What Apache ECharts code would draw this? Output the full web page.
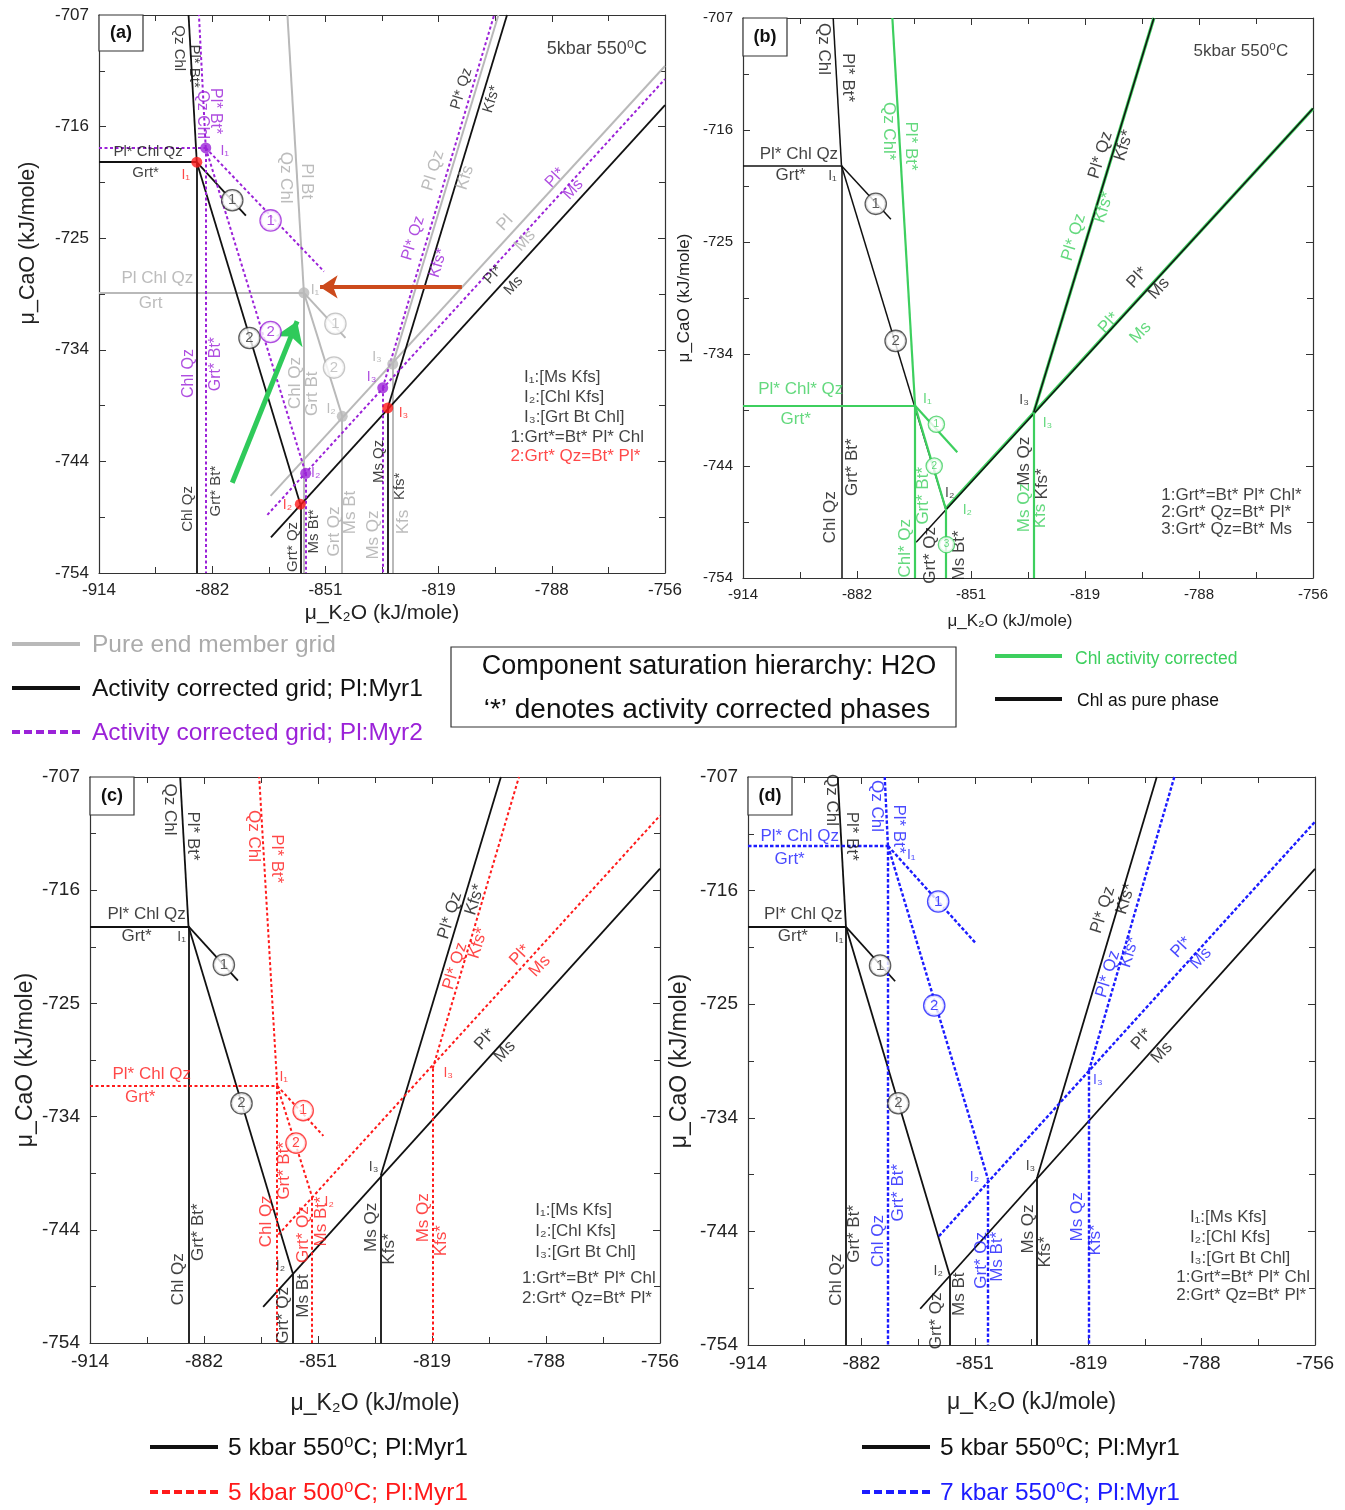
<!DOCTYPE html>
<html><head><meta charset="utf-8">
<script src="https://cdn.jsdelivr.net/npm/echarts@6/dist/echarts.min.js"></script>
<style>html,body{margin:0;padding:0;background:#fff}#c{width:1345px;height:1510px}</style>
</head><body><div id="c"></div><script>
// ---- axis ticks ----
const X_MIN = -914, X_MAX = -756, X_INT = 31.6;
const Y_MIN = -754, Y_MAX = -707, Y_INT = 9.4;
const xTickLabels = ['-914','-882','-851','-819','-788','-756'];
const yTickLabels = ['-754','-744','-734','-725','-716','-707'];

// ---- phase-boundary segments (kJ/mole) ----
// Activity corrected grid, Pl:Myr1, 5 kbar 550C (black, all panels)
const blackSegs = [
  [[-914,-719.4],[-886.7,-719.4]],
  [[-886.7,-719.4],[-889.0,-707]],
  [[-886.7,-719.4],[-886.7,-754]],
  [[-886.7,-719.4],[-873.0,-723.9]],
  [[-886.7,-719.4],[-857.8,-748.2]],
  [[-857.8,-748.2],[-857.8,-754]],
  [[-866.0,-751.0],[-756,-714.6]],
  [[-833.4,-740.1],[-800.1,-707]],
  [[-833.4,-740.1],[-833.4,-754]]
];
// Pure end member grid (gray, panel a)
const graySegs = [
  [[-914,-730.4],[-856.8,-730.4]],
  [[-856.8,-730.4],[-861.4,-707]],
  [[-856.8,-730.4],[-856.8,-754]],
  [[-856.8,-730.4],[-845.2,-734.2]],
  [[-856.8,-730.4],[-846.1,-740.8]],
  [[-846.1,-740.8],[-846.1,-754]],
  [[-866.1,-747.5],[-756,-711.3]],
  [[-832.0,-736.4],[-802.5,-707]],
  [[-832.0,-736.4],[-832.0,-754]]
];
// Activity corrected grid, Pl:Myr2 (purple, panel a)
const purpleSegs = [
  [[-914,-718.2],[-884.2,-718.2]],
  [[-884.2,-718.2],[-886.1,-707]],
  [[-884.2,-718.2],[-884.2,-754]],
  [[-884.2,-718.2],[-851.2,-728.6]],
  [[-884.2,-718.2],[-856.3,-745.6]],
  [[-856.3,-745.6],[-856.3,-754]],
  [[-867.0,-749.1],[-756,-712.4]],
  [[-834.8,-738.4],[-803.7,-707]],
  [[-834.8,-738.4],[-834.8,-754]]
];
// Chl activity corrected (green, panel b)
const greenSegs = [
  [[-914,-739.55],[-866.3,-739.55]],
  [[-866.3,-739.55],[-872.6,-707]],
  [[-866.3,-739.55],[-866.3,-754]],
  [[-866.3,-739.55],[-854.6,-743.45]],
  [[-866.3,-739.55],[-857.8,-748.2]],
  [[-857.8,-748.2],[-857.8,-754]],
  [[-857.8,-748.2],[-756,-714.6]],
  [[-833.4,-740.1],[-800.1,-707]],
  [[-833.4,-740.1],[-833.4,-754]]
];
// 5 kbar 500C (red, panel c)
const redSegs = [
  [[-914,-732.65],[-862.1,-732.65]],
  [[-862.1,-732.65],[-867.1,-707]],
  [[-862.1,-732.65],[-862.1,-754]],
  [[-862.1,-732.65],[-849.3,-736.8]],
  [[-862.1,-732.65],[-852.4,-741.9]],
  [[-852.4,-741.9],[-852.4,-754]],
  [[-861.8,-745.0],[-756,-710.2]],
  [[-819.0,-731.2],[-795.1,-707]],
  [[-819.0,-731.2],[-819.0,-754]]
];
// 7 kbar 550C (blue, panel d)
const blueSegs = [
  [[-914,-712.7],[-875.0,-712.7]],
  [[-875.0,-712.7],[-875.9,-707]],
  [[-875.0,-712.7],[-875.0,-754]],
  [[-875.0,-712.7],[-850.4,-720.8]],
  [[-875.0,-712.7],[-847.1,-740.3]],
  [[-847.1,-740.3],[-847.1,-754]],
  [[-860.8,-745.0],[-756,-710.7]],
  [[-819.0,-731.3],[-795.2,-707]],
  [[-819.0,-731.3],[-819.0,-754]]
];
// invariant points (panel a)
const blackInv = [[-886.7,-719.4],[-857.8,-748.2],[-833.4,-740.1]];
const purpleInv = [[-884.2,-718.2],[-856.3,-745.6],[-834.8,-738.4]];
const grayInv = [[-856.8,-730.4],[-846.1,-740.8],[-832.0,-736.4]];
// arrows (panel a)
const redArrow = [[-812.7,-729.9],[-852.3,-729.9]];
const greenArrow = [[-876.8,-746.4],[-858.7,-732.8]];

// ---- annotations: [x, y, text, rotation] ----
const aBlackText = [
  [-891.7,-709.8,'Qz Chl',-90],[-887.4,-711.3,'Pl* Bt*',-90],
  [-900.3,-718.5,'Pl* Chl Qz',0],[-901,-720.3,'Grt*',0],
  [-889.3,-748.6,'Chl Qz',90],[-881.4,-747.1,'Grt* Bt*',90],
  [-860,-751.8,'Grt* Qz',90],[-854,-750.5,'Ms Bt*',90],
  [-836,-744.6,'Ms Qz',90],[-830,-746.7,'Kfs*',90],
  [-812.8,-713.2,'Pl* Qz',73],[-804.4,-714.1,'Kfs*',73],
  [-804,-728.9,'Pl*',47],[-798.3,-729.8,'Ms',47]
];
const aGrayText = [
  [-861.9,-720.7,'Qz Chl',-90],[-855.9,-721,'Pl Bt',-90],
  [-897.7,-729.2,'Pl Chl Qz',0],[-899.6,-731.3,'Grt',0],
  [-859.1,-738,'Chl Qz',90],[-854.5,-738.9,'Grt Bt',90],
  [-848.4,-750.5,'Grt Qz',90],[-843.8,-748.9,'Ms Bt',90],[-837.5,-750.8,'Ms Qz',90],[-829,-749.7,'Kfs',90],
  [-820.7,-720.1,'Pl Qz',73],[-811.8,-720.7,'Kfs',73],
  [-800.7,-724.5,'Pl',47],[-795.1,-726,'Ms',47],
  [-853.7,-730.2,'I₁',0],[-849.2,-740.2,'I₂',0],[-836.4,-735.8,'I₃',0]
];
const aPurpleText = [
  [-885.2,-715.4,'Qz Chl',-90],[-881.4,-715.1,'Pl* Bt*',-90],[-878.9,-718.5,'I₁',0],
  [-888.9,-737.2,'Chl Qz',90],[-881.4,-736.4,'Grt* Bt*',90],
  [-826.3,-725.8,'Pl* Qz',73],[-819.3,-727.9,'Kfs*',73],
  [-786.7,-720.7,'Pl*',47],[-781.6,-721.7,'Ms',47],
  [-853.5,-745.6,'I₂',0],[-837.9,-737.5,'I₃',0]
];
const aRedText = [[-889.8,-720.5,'I₁',0],[-861.4,-748.3,'I₂',0],[-829,-740.5,'I₃',0]];

const bBlackText = [
  [-891.5,-709.6,'Qz Chl',-90],[-885.1,-712,'Pl* Bt*',-90],
  [-898.5,-718.4,'Pl* Chl Qz',0],[-900.8,-720.2,'Grt*',0],[-889.2,-720.3,'I₁',0],
  [-889.7,-748.9,'Chl Qz',90],[-883.7,-744.7,'Grt* Bt*',90],
  [-862,-752.1,'Grt* Qz',90],[-854.1,-752.1,'Ms Bt*',90],[-856.7,-746.9,'I₂',0],
  [-836.1,-744.2,'Ms Qz',90],[-830.9,-746.1,'Kfs*',90],[-836.1,-739.1,'I₃',0],
  [-814.9,-718.5,'Pl* Qz',73],[-808.4,-717.7,'Kfs*',73],
  [-804.7,-728.8,'Pl*',47],[-798.7,-729.7,'Ms',47]
];
const bGreenText = [
  [-873.5,-716.5,'Qz Chl*',-90],[-867.5,-717.75,'Pl* Bt*',-90],
  [-898,-738.2,'Pl* Chl* Qz',0],[-899.4,-740.7,'Grt*',0],[-862.9,-739,'I₁',0],
  [-868.9,-751.5,'Chl* Qz',90],[-864,-747.1,'Grt* Bt*',90],[-851.8,-748.3,'I₂',0],
  [-836.1,-748.1,'Ms Qz',90],[-831.5,-748.8,'Kfs',90],[-829.6,-741,'I₃',0],
  [-822.3,-725.4,'Pl* Qz',73],[-814,-722.9,'Kfs*',73],
  [-812.6,-732.6,'Pl*',47],[-803.8,-733.4,'Ms',47]
];
const cBlackText = [
  [-891.8,-709.7,'Qz Chl',-90],[-885.4,-711.9,'Pl* Bt*',-90],
  [-898.3,-718.4,'Pl* Chl Qz',0],[-901.1,-720.2,'Grt*',0],[-888.6,-720.3,'I₁',0],
  [-889.5,-748.7,'Chl Qz',90],[-884,-744.8,'Grt* Bt*',90],
  [-860.4,-751.7,'Grt* Qz',90],[-854.9,-750.1,'Ms Bt',90],[-861.2,-747.6,'I₂',0],
  [-835.9,-744.4,'Ms Qz',90],[-830.9,-746.2,'Kfs*',90],[-835.4,-739.4,'I₃',0],
  [-814.2,-718.5,'Pl* Qz',73],[-807.3,-717.2,'Kfs*',73],
  [-804.5,-728.8,'Pl*',47],[-799,-729.8,'Ms',47]
];
const cRedText = [
  [-868.7,-711.9,'Qz Chl',-90],[-862.3,-713.8,'Pl* Bt*',-90],
  [-896.9,-731.7,'Pl* Chl Qz',0],[-900.1,-733.6,'Grt*',0],[-860.3,-731.9,'I₁',0],
  [-865,-743.9,'Chl Qz',90],[-860,-739.7,'Grt* Bt*',90],
  [-854.9,-745,'Grt* Qz',90],[-849.8,-743.9,'Ms Bt*',90],[-847.7,-742.3,'I₂',0],
  [-821.6,-743.6,'Ms Qz',90],[-816.5,-745.5,'Kfs*',90],[-814.7,-731.6,'I₃',0],
  [-812.8,-722.7,'Pl* Qz',73],[-806.4,-720.8,'Kfs*',73],
  [-794.8,-721.8,'Pl*',47],[-789.3,-722.7,'Ms',47]
];
const dBlackText = [
  [-890.7,-708.9,'Qz Chl',-90],[-885.1,-711.9,'Pl* Bt*',-90],
  [-898.6,-718.4,'Pl* Chl Qz',0],[-901.5,-720.2,'Grt*',0],[-888.6,-720.3,'I₁',0],
  [-889.5,-748.6,'Chl Qz',90],[-884.3,-744.8,'Grt* Bt*',90],
  [-861.4,-752,'Grt* Qz',90],[-855,-749.8,'Ms Bt',90],[-861,-747.9,'I₂',0],
  [-835.8,-744.4,'Ms Qz',90],[-831.2,-746.3,'Kfs*',90],[-835.3,-739.2,'I₃',0],
  [-815.1,-718,'Pl* Qz',73],[-808.8,-717.1,'Kfs*',73],
  [-804.3,-728.7,'Pl*',47],[-798.7,-729.8,'Ms',47]
];
const dBlueText = [
  [-878.1,-709.4,'Qz Chl',-90],[-872.1,-711.3,'Pl* Bt*',-90],
  [-899.6,-711.9,'Pl* Chl Qz',0],[-902.4,-713.8,'Grt*',0],[-868.5,-713.5,'I₁',0],
  [-877.7,-745.4,'Chl Qz',90],[-872.1,-741.4,'Grt* Bt*',90],
  [-849.1,-747,'Grt* Qz',90],[-844.5,-746.7,'Ms Bt*',90],[-850.9,-740.1,'I₂',0],
  [-822.3,-743.4,'Ms Qz',90],[-817.2,-745.3,'Kfs*',90],[-816.5,-732.1,'I₃',0],
  [-813.7,-723.3,'Pl* Qz',73],[-807.7,-721.5,'Kfs*',73],
  [-793.3,-721.1,'Pl*',47],[-787.8,-722,'Ms',47]
];
// reaction circles [x, y, number]
const aBlackCirc = [[-876.8,-722.6,'1'],[-872,-734.2,'2']];
const aPurpleCirc = [[-866.1,-724.3,'1'],[-866.1,-733.7,'2']];
const aGrayCirc = [[-848,-733,'1'],[-848.4,-736.7,'2']];
const bBlackCirc = [[-877.2,-722.6,'1'],[-871.7,-734.1,'2']];
const bGreenCirc = [[-860.4,-741.1,'1'],[-861,-744.6,'2'],[-857.6,-751.2,'3']];
const cBlackCirc = [[-876.9,-722.6,'1'],[-872,-734.1,'2']];
const cRedCirc = [[-854.9,-734.7,'1'],[-856.9,-737.4,'2']];
const dBlackCirc = [[-877.2,-722.6,'1'],[-872.1,-734,'2']];
const dBlueCirc = [[-861,-717.3,'1'],[-862.1,-725.9,'2']];
// notes [x, y, text]
const aNotes = [[-795.5,-737.5,'I₁:[Ms Kfs]'],[-795.5,-739.2,'I₂:[Chl Kfs]'],[-795.5,-740.9,'I₃:[Grt Bt Chl]'],[-799.3,-742.6,'1:Grt*=Bt* Pl* Chl']];
const aRedNotes = [[-799.3,-744.2,'2:Grt* Qz=Bt* Pl*']];
const bNotes = [[-798.2,-747.1,'1:Grt*=Bt* Pl* Chl*'],[-798.2,-748.5,'2:Grt* Qz=Bt* Pl*'],[-798.2,-749.9,'3:Grt* Qz=Bt* Ms']];
const cNotes = [[-790.7,-743,'I₁:[Ms Kfs]'],[-790.7,-744.7,'I₂:[Chl Kfs]'],[-790.7,-746.5,'I₃:[Grt Bt Chl]'],[-794.4,-748.6,'1:Grt*=Bt* Pl* Chl'],[-794.4,-750.3,'2:Grt* Qz=Bt* Pl*']];
const dNotes = [[-791,-743.4,'I₁:[Ms Kfs]'],[-791,-745.1,'I₂:[Chl Kfs]'],[-791,-746.8,'I₃:[Grt Bt Chl]'],[-794.8,-748.4,'1:Grt*=Bt* Pl* Chl'],[-794.8,-749.9,'2:Grt* Qz=Bt* Pl*']];
const condText = '5kbar 550⁰C';

// ---- styling ----
const FONT = "'Liberation Sans', Arial, 'DejaVu Sans', sans-serif";
const C = {black:'#111', gray:'#b9b9b9', grayT:'#ababab', purple:'#9b22d8', green:'#3dcf5e', red:'#ff1a1a', blue:'#1c1cff', arrowRed:'#cc4a1c', arrowGreen:'#2fca5a'};
const grids = [
  {left:99, top:15, width:566, height:558},
  {left:743, top:18, width:570, height:560},
  {left:90, top:777, width:570, height:566},
  {left:748, top:777, width:567, height:568}
];
const panelCfg = [
  {tick:17, nameFs:21, yNameFs:21.5, xGap:30, yGap:60, xPad:[0,0,0,0], yPad:[0,0,0,102]},
  {tick:15, nameFs:17, yNameFs:17, xGap:35, yGap:50, xPad:[0,36,0,0], yPad:[0,0,0,0]},
  {tick:19, nameFs:23, yNameFs:23, xGap:49, yGap:53, xPad:[0,0,0,0], yPad:[0,0,0,0]},
  {tick:19, nameFs:23, yNameFs:23, xGap:46, yGap:57, xPad:[0,0,0,0], yPad:[0,0,0,0]}
];

const xAxes = [], yAxes = [];
grids.forEach((g, p) => {
  const cf = panelCfg[p];
  const line = {show:true, onZero:false, lineStyle:{color:'#333', width:1.2}};
  const tick = {show:true, inside:true, length:7, lineStyle:{color:'#333', width:1}};
  const minor = {show:true, splitNumber:2, length:6, lineStyle:{color:'#333', width:1}};
  const xl = {show:true, fontSize:cf.tick, color:'#222', fontFamily:FONT, margin:9, showMinLabel:true, showMaxLabel:true,
    formatter: v => xTickLabels[Math.round((v - X_MIN) / X_INT)] || ''};
  const yl = {show:true, fontSize:cf.tick, color:'#222', fontFamily:FONT, margin:10, showMinLabel:true, showMaxLabel:true,
    formatter: v => yTickLabels[Math.round((v - Y_MIN) / Y_INT)] || ''};
  xAxes.push({type:'value', gridIndex:p, position:'bottom', min:X_MIN, max:X_MAX, interval:X_INT,
    axisLine:line, axisTick:tick, minorTick:minor, splitLine:{show:false}, axisLabel:xl,
    name:'μ_K₂O (kJ/mole)', nameLocation:'middle', nameGap:cf.xGap,
    nameTextStyle:{fontSize:cf.nameFs, color:'#222', fontFamily:FONT, padding:cf.xPad}});
  xAxes.push({type:'value', gridIndex:p, position:'top', min:X_MIN, max:X_MAX, interval:X_INT,
    axisLine:line, axisTick:tick, minorTick:minor, splitLine:{show:false}, axisLabel:{show:false}});
  yAxes.push({type:'value', gridIndex:p, position:'left', min:Y_MIN, max:Y_MAX, interval:Y_INT,
    axisLine:line, axisTick:tick, minorTick:minor, splitLine:{show:false}, axisLabel:yl,
    name:'μ_CaO (kJ/mole)', nameLocation:'middle', nameGap:cf.yGap, nameRotate:90,
    nameTextStyle:{fontSize:cf.yNameFs, color:'#222', fontFamily:FONT, padding:cf.yPad}});
  yAxes.push({type:'value', gridIndex:p, position:'right', min:Y_MIN, max:Y_MAX, interval:Y_INT,
    axisLine:line, axisTick:tick, minorTick:minor, splitLine:{show:false}, axisLabel:{show:false}});
});

function segSeries(p, segs, color, width, dash, z) {
  return {type:'lines', coordinateSystem:'cartesian2d', xAxisIndex:2*p, yAxisIndex:2*p, silent:true, z:z,
    lineStyle:{color:color, width:width, type:dash || 'solid', opacity:1, curveness:0},
    data: segs.map(s => ({coords:s}))};
}
function arrowSeries(p, pts, color, width) {
  return {type:'lines', coordinateSystem:'cartesian2d', xAxisIndex:2*p, yAxisIndex:2*p, silent:true, z:8,
    symbol:['none','arrow'], symbolSize:[0, width*4.4],
    lineStyle:{color:color, width:width, opacity:1}, data:[{coords:pts}]};
}
function dotSeries(p, pts, color) {
  return {type:'scatter', xAxisIndex:2*p, yAxisIndex:2*p, silent:true, z:7, symbolSize:11,
    itemStyle:{color:color}, data:pts};
}
const IDX_RE = /^I[₁₂₃]$/;
function textSeries(p, items, color, fs, idxFs) {
  return {type:'scatter', xAxisIndex:2*p, yAxisIndex:2*p, silent:true, z:9, symbolSize:1, clip:false,
    itemStyle:{color:'rgba(0,0,0,0)'},
    label:{show:true, position:'inside', color:color, fontSize:fs, fontFamily:FONT, formatter:'{b}'},
    data: items.map(t => ({value:[t[0], t[1]], name:t[2],
      label: IDX_RE.test(t[2]) ? {rotate:0, fontSize:idxFs || 14} : {rotate:t[3] || 0}}))};
}
function noteSeries(p, items, color, fs) {
  return {type:'scatter', xAxisIndex:2*p, yAxisIndex:2*p, silent:true, z:9, symbolSize:1, clip:false,
    itemStyle:{color:'rgba(0,0,0,0)'},
    label:{show:true, position:'right', distance:0, color:color, fontSize:fs, fontFamily:FONT, formatter:'{b}'},
    data: items.map(t => ({value:[t[0], t[1]], name:t[2]}))};
}
function circSeries(p, items, color, size, textColor) {
  return {type:'scatter', xAxisIndex:2*p, yAxisIndex:2*p, silent:true, z:10, symbolSize:1, clip:false,
    itemStyle:{color:'rgba(0,0,0,0)'},
    label:{show:true, position:'inside', color:textColor || color, fontSize:size - 5, fontFamily:FONT, formatter:'{b}',
      backgroundColor:'#fff', borderColor:color, borderWidth:1.3, borderRadius:size, width:size - 2, height:size - 2,
      lineHeight:size - 2, align:'center', verticalAlign:'middle', padding:1},
    data: items.map(t => ({value:[t[0], t[1]], name:t[2]}))};
}
// green segments coinciding with the black grid go below it, the rest above
const greenUnder = greenSegs.filter((s, i) => i === 6 || i === 7);
const greenOver = greenSegs.filter((s, i) => i !== 6 && i !== 7);

const series = [
  // panel a
  segSeries(0, graySegs, C.gray, 2, 'solid', 2),
  segSeries(0, blackSegs, C.black, 1.8, 'solid', 3),
  segSeries(0, purpleSegs, C.purple, 2, [3, 2.5], 4),
  arrowSeries(0, redArrow, C.arrowRed, 4),
  arrowSeries(0, greenArrow, C.arrowGreen, 5),
  dotSeries(0, grayInv, C.gray), dotSeries(0, purpleInv, C.purple), dotSeries(0, blackInv, C.red),
  textSeries(0, aGrayText, C.grayT, 17, 14),
  textSeries(0, aBlackText, C.black, 15),
  textSeries(0, aPurpleText, C.purple, 16, 14),
  textSeries(0, aRedText, C.red, 14, 14),
  circSeries(0, aBlackCirc, '#333', 20), circSeries(0, aPurpleCirc, C.purple, 20), circSeries(0, aGrayCirc, C.gray, 20),
  noteSeries(0, aNotes, C.black, 17), noteSeries(0, aRedNotes, C.red, 17),
  textSeries(0, [[-775, -709.9, condText, 0]], C.black, 18),
  // panel b
  segSeries(1, greenUnder, C.green, 3.2, 'solid', 2),
  segSeries(1, blackSegs, C.black, 1.5, 'solid', 3),
  segSeries(1, greenOver, C.green, 2.2, 'solid', 4),
  textSeries(1, bBlackText, C.black, 17, 14),
  textSeries(1, bGreenText, C.green, 17, 14),
  circSeries(1, bBlackCirc, '#333', 20), circSeries(1, bGreenCirc, C.green, 15),
  noteSeries(1, bNotes, C.black, 17),
  textSeries(1, [[-776, -709.8, condText, 0]], C.black, 17),
  // panel c
  segSeries(2, blackSegs, C.black, 1.8, 'solid', 3),
  segSeries(2, redSegs, C.red, 2, [3, 2.5], 4),
  textSeries(2, cBlackText, C.black, 17, 14),
  textSeries(2, cRedText, C.red, 17, 14),
  circSeries(2, cBlackCirc, '#333', 20), circSeries(2, cRedCirc, C.red, 19),
  noteSeries(2, cNotes, C.black, 17),
  // panel d
  segSeries(3, blackSegs, C.black, 1.8, 'solid', 3),
  segSeries(3, blueSegs, C.blue, 2.4, [3.5, 2], 4),
  textSeries(3, dBlackText, C.black, 17, 14),
  textSeries(3, dBlueText, C.blue, 17, 14),
  circSeries(3, dBlackCirc, '#333', 20), circSeries(3, dBlueCirc, C.blue, 20),
  noteSeries(3, dNotes, C.black, 17)
];

// ---- graphic: panel tags & legends ----
const graphic = [];
const tags = [['(a)',99,15,44,36],['(b)',743,18,44,38],['(c)',90,777,44,38],['(d)',748,777,44,38]];
tags.forEach(t => {
  graphic.push({type:'rect', shape:{x:t[1], y:t[2], width:t[3], height:t[4]}, style:{fill:'#fff', stroke:'#333', lineWidth:1.2}, z:20});
  graphic.push({type:'text', x:t[1] + t[3]/2, y:t[2] + t[4]/2, style:{text:t[0], fontSize:18, fontWeight:'bold', fontFamily:FONT, fill:'#111', align:'center', verticalAlign:'middle'}, z:21});
});
function legLine(x1, x2, y, color, dash) {
  graphic.push({type:'line', shape:{x1:x1, y1:y, x2:x2, y2:y}, style:{stroke:color, lineWidth:4, lineDash:dash || null}, z:20});
}
function legText(x, y, text, color, fs, align) {
  graphic.push({type:'text', x:x, y:y, style:{text:text, fontSize:fs, fontFamily:FONT, fill:color, align:align || 'left', verticalAlign:'middle'}, z:21});
}
legLine(12, 80, 644, C.gray); legText(92, 645, 'Pure end member grid', C.grayT, 24.5);
legLine(12, 80, 688, C.black); legText(92, 689, 'Activity corrected grid; Pl:Myr1', C.black, 24.5);
legLine(12, 80, 732, C.purple, [8, 4]); legText(92, 733, 'Activity corrected grid; Pl:Myr2', C.purple, 24.5);
graphic.push({type:'rect', shape:{x:451, y:647, width:505, height:80}, style:{fill:'#fff', stroke:'#333', lineWidth:1.2}, z:20});
legText(709, 667, 'Component saturation hierarchy: H2O', C.black, 27, 'center');
legText(707, 710, '‘*’ denotes activity corrected phases', C.black, 28, 'center');
legLine(995, 1062, 656, C.green); legText(1075, 659, 'Chl activity corrected', C.green, 17.5);
legLine(995, 1062, 699, C.black); legText(1077, 701, 'Chl as pure phase', C.black, 17.5);
legLine(150, 218, 1447, C.black); legText(228, 1448, '5 kbar 550⁰C; Pl:Myr1', C.black, 24.5);
legLine(150, 218, 1492, C.red, [8, 4]); legText(228, 1493, '5 kbar 500⁰C; Pl:Myr1', C.red, 24.5);
legLine(862, 930, 1447, C.black); legText(940, 1448, '5 kbar 550⁰C; Pl:Myr1', C.black, 24.5);
legLine(862, 930, 1492, C.blue, [8, 4]); legText(940, 1493, '7 kbar 550⁰C; Pl:Myr1', C.blue, 24.5);

const chart = echarts.init(document.getElementById('c'), null, {renderer:'canvas'});
chart.setOption({
  animation:false, backgroundColor:'#fff',
  grid: grids, xAxis: xAxes, yAxis: yAxes, series: series, graphic: graphic
});
</script></body></html>
